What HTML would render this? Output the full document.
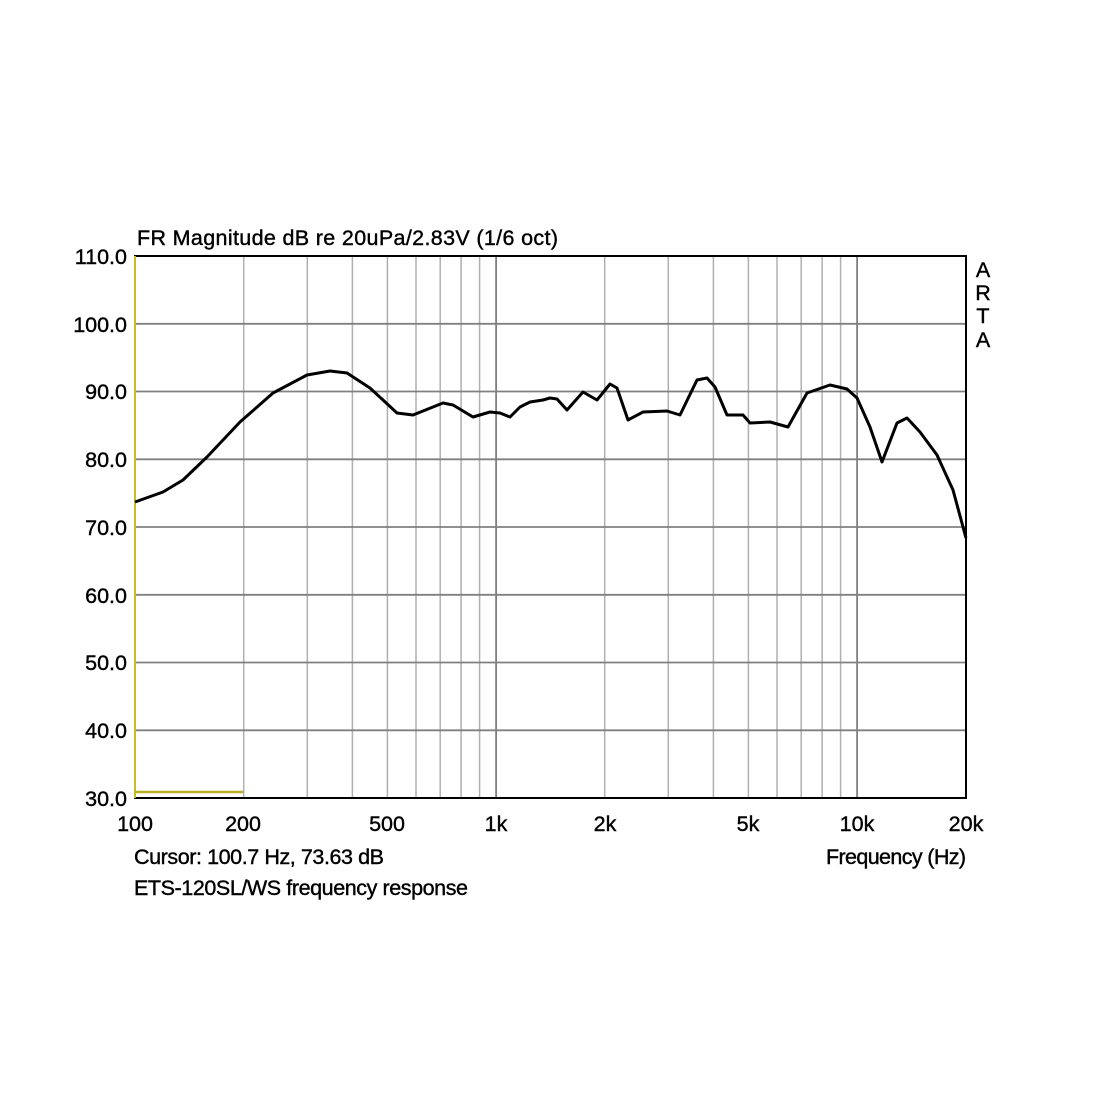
<!DOCTYPE html>
<html><head><style>body{margin:0;background:#fff}</style></head><body>
<svg width="1100" height="1100" xmlns="http://www.w3.org/2000/svg" font-family="Liberation Sans, Arial, sans-serif" font-size="21.5" fill="#000">
<rect width="1100" height="1100" fill="#fff"/>
<g stroke="#b0b0b0" stroke-width="1.5">
<line x1="243.7" y1="256" x2="243.7" y2="798"/>
<line x1="307.3" y1="256" x2="307.3" y2="798"/>
<line x1="352.4" y1="256" x2="352.4" y2="798"/>
<line x1="387.4" y1="256" x2="387.4" y2="798"/>
<line x1="416" y1="256" x2="416" y2="798"/>
<line x1="440.2" y1="256" x2="440.2" y2="798"/>
<line x1="461.1" y1="256" x2="461.1" y2="798"/>
<line x1="479.6" y1="256" x2="479.6" y2="798"/>
<line x1="604.7" y1="256" x2="604.7" y2="798"/>
<line x1="668.3" y1="256" x2="668.3" y2="798"/>
<line x1="713.4" y1="256" x2="713.4" y2="798"/>
<line x1="748.4" y1="256" x2="748.4" y2="798"/>
<line x1="777" y1="256" x2="777" y2="798"/>
<line x1="801.2" y1="256" x2="801.2" y2="798"/>
<line x1="822.1" y1="256" x2="822.1" y2="798"/>
<line x1="840.6" y1="256" x2="840.6" y2="798"/>
</g>
<g stroke="#808080" stroke-width="1.8">
<line x1="496.1" y1="256" x2="496.1" y2="798"/>
<line x1="857.1" y1="256" x2="857.1" y2="798"/>
<line x1="135" y1="323.8" x2="966" y2="323.8"/>
<line x1="135" y1="391.5" x2="966" y2="391.5"/>
<line x1="135" y1="459.3" x2="966" y2="459.3"/>
<line x1="135" y1="527" x2="966" y2="527"/>
<line x1="135" y1="594.8" x2="966" y2="594.8"/>
<line x1="135" y1="662.5" x2="966" y2="662.5"/>
<line x1="135" y1="730.3" x2="966" y2="730.3"/>
</g>
<rect x="135" y="256" width="831" height="542" fill="none" stroke="#000" stroke-width="2"/>
<line x1="135" y1="256" x2="135" y2="798" stroke="#c8c020" stroke-width="2"/>
<line x1="135" y1="792" x2="243" y2="792" stroke="#b8b020" stroke-width="2.5"/>
<polyline fill="none" stroke="#000" stroke-width="3" stroke-linejoin="round" points="135,502 163,492 183,480 207,457 240,422 273,393 307,375 330,371 347,373 370,388 397,413 413,415 443,403 453,405 473,417 490,412 500,413 510,417 520,407 530,402 543,400 550,398 557,399 567,410 583,392 597,400 610,384 617,388 628,420 643,412 667,411 680,415 697,380 707,378 715,387 727,415 743,415 750,423 770,422 788,427 807,393 830,385 847,389 857,398 870,427 882,462 897,423 907,418 920,432 937,455 953,490 966,538"/>
<g stroke="#000" stroke-width="0.4">
<text x="137" y="245" textLength="421">FR Magnitude dB re 20uPa/2.83V (1/6 oct)</text>
<g text-anchor="end">
<text x="127" y="264">110.0</text><text x="127" y="332">100.0</text><text x="127" y="399">90.0</text>
<text x="127" y="467">80.0</text><text x="127" y="535">70.0</text><text x="127" y="603">60.0</text>
<text x="127" y="670">50.0</text><text x="127" y="738">40.0</text><text x="127" y="806">30.0</text>
</g>
<g text-anchor="middle">
<text x="135" y="831">100</text><text x="243" y="831">200</text><text x="387" y="831">500</text>
<text x="496" y="831">1k</text><text x="605" y="831">2k</text><text x="748" y="831">5k</text>
<text x="857" y="831">10k</text><text x="966" y="831">20k</text>
<text x="983" y="277">A</text><text x="983" y="300">R</text><text x="983" y="323">T</text><text x="983" y="347">A</text>
</g>
<text x="134" y="864" textLength="250">Cursor: 100.7 Hz, 73.63 dB</text>
<text x="826" y="864" textLength="140">Frequency (Hz)</text>
<text x="134" y="895" textLength="334">ETS-120SL/WS frequency response</text>
</g>
</svg>
</body></html>
